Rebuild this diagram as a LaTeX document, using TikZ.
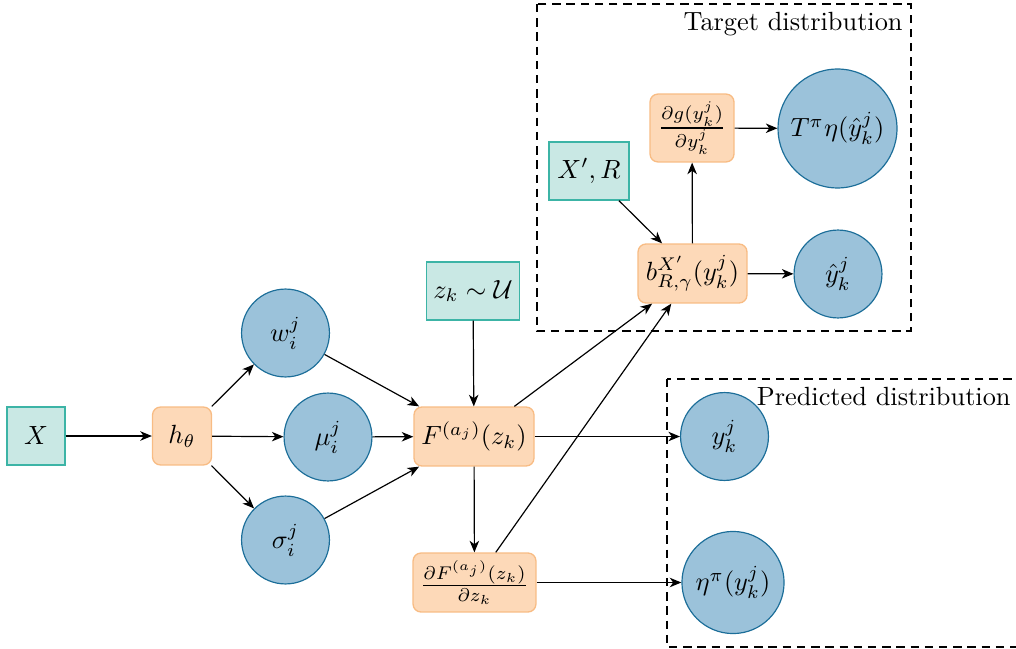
\documentclass[tikz,border=0pt]{standalone}
\usetikzlibrary{arrows.meta}
\definecolor{tealL}{HTML}{C9E8E4}
\definecolor{tealD}{HTML}{3CB4A6}
\definecolor{orL}{HTML}{FDD9B8}
\definecolor{orD}{HTML}{F8BC84}
\definecolor{blL}{HTML}{9BC2DA}
\definecolor{blD}{HTML}{1C6E99}
\tikzset{
 inp/.style={draw=tealD, fill=tealL, line width=0.5pt, inner sep=0pt},
 op/.style={draw=orD, fill=orL, rounded corners=3pt, line width=0.5pt, inner sep=0pt},
 var/.style={circle, draw=blD, fill=blL, line width=0.45pt, inner sep=0pt},
 conn/.style={-{Stealth[length=4.4pt,width=3.6pt,inset=1.3pt]}, line width=0.45pt},
 region/.style={dash pattern=on 3.2pt off 2.2pt, line width=0.45pt},
 regionlabel/.style={anchor=north east, inner sep=3pt}
}
\begin{document}
\begin{tikzpicture}[x=0.38pt,y=-0.38pt]
\useasboundingbox (0,0) rectangle (1016,649);
\clip (0,0) rectangle (1016,649);
% regions
\coordinate (tA) at (537,4);
\coordinate (tB) at (911,331);
\coordinate (pA) at (667,379);
\coordinate (pB) at (1019,647);
\draw[region] (tA) rectangle (tB);
\draw[region] (pA) rectangle (pB);
\node[regionlabel] (tlab) at (tA -| tB) {Target distribution};
\node[regionlabel] (plab) at (pA -| pB) {Predicted distribution};
% nodes
\node[inp, minimum width=22pt, minimum height=22pt] (X) at (36,436) {$X$};
\node[op, minimum width=22.4pt, minimum height=22pt] (h) at (182,436) {$h_\theta$};
\node[var, minimum size=33.4pt] (w) at (285.5,333) {$w_i^j$};
\node[var, minimum size=33.4pt] (mu) at (328,437) {$\mu_i^j$};
\node[var, minimum size=33.4pt] (sig) at (285.5,540) {$\sigma_i^j$};
\node[inp, minimum width=35.3pt, minimum height=22pt] (z) at (473,291) {$z_k\sim\mathcal{U}$};
\node[op, minimum width=45.6pt, minimum height=22.4pt] (F) at (474,436.5) {$F^{(a_j)}(z_k)$};
\node[op, minimum width=46.7pt, minimum height=22.4pt] (dF) at (474.5,582.5) {$\frac{\partial F^{(a_j)}(z_k)}{\partial z_k}$};
\node[var, minimum size=33.4pt] (y) at (724.5,436.5) {$y_k^j$};
\node[var, minimum size=38.8pt] (eta) at (733,582.5) {$\eta^\pi(y_k^j)$};
\node[inp, minimum width=30.4pt, minimum height=22pt] (XR) at (589,171) {$X',R$};
\node[op, minimum width=41.4pt, minimum height=22.4pt] (b) at (692.5,273.5) {$b_{R,\gamma}^{X'}(y_k^j)$};
\node[var, minimum size=33.4pt] (yh) at (838,274) {$\hat y_k^j$};
\node[op, minimum width=31.9pt, minimum height=25.8pt] (dg) at (692,128) {$\frac{\partial g(y_k^j)}{\partial y_k^j}$};
\node[var, minimum size=45.2pt] (T) at (837.5,128.5) {$T^\pi\eta(\hat y_k^j)$};
% connectors
\draw[conn] (X) -- (h);
\draw[conn] (h) -- (w);
\draw[conn] (h) -- (mu);
\draw[conn] (h) -- (sig);
\draw[conn] (w) -- (F);
\draw[conn] (mu) -- (F);
\draw[conn] (sig) -- (F);
\draw[conn] (z) -- (F);
\draw[conn] (F) -- (y);
\draw[conn] (F) -- (dF);
\draw[conn] (F) -- (b);
\draw[conn] (dF) -- (b);
\draw[conn] (dF) -- (eta);
\draw[conn] (XR) -- (b);
\draw[conn] (b) -- (yh);
\draw[conn] (b) -- (dg);
\draw[conn] (dg) -- (T);
\end{tikzpicture}
\end{document}
